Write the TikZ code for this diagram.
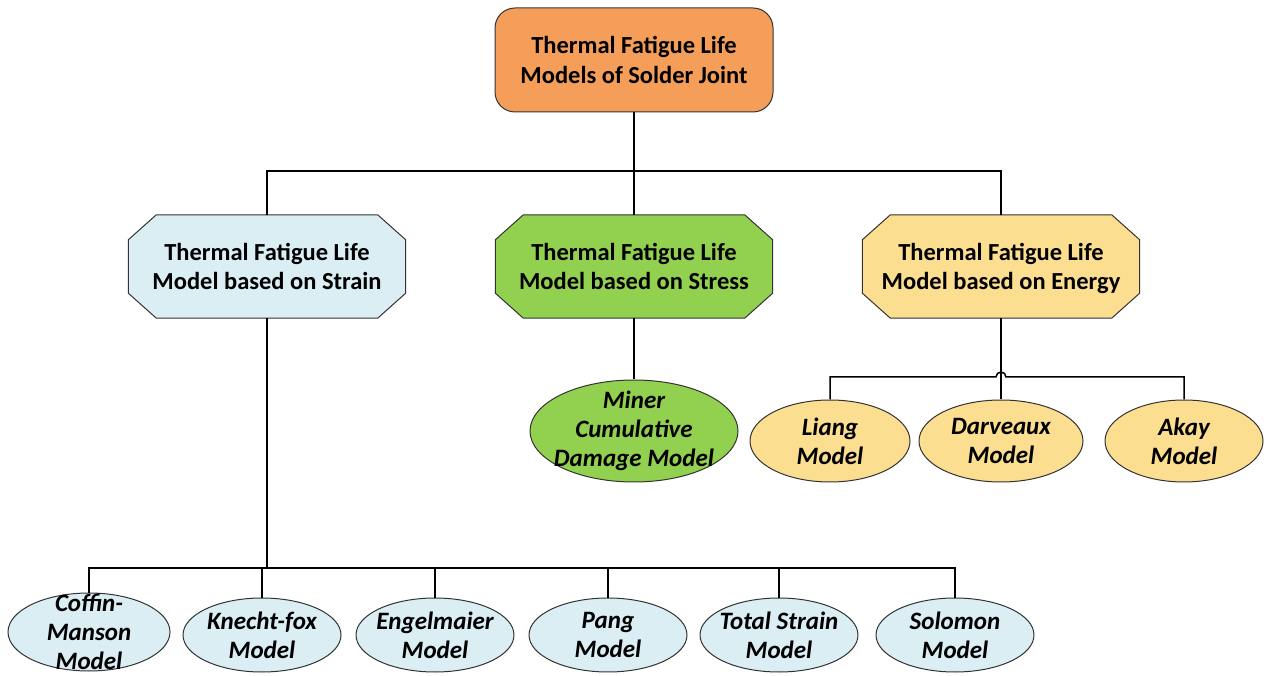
\documentclass[tikz,border=0pt]{standalone}
\usepackage{fontspec}
\setmainfont{Carlito}
\usepackage{xcolor}
\usepackage{tikz}
\usetikzlibrary{shapes.geometric, positioning, calc, backgrounds}

\definecolor{rootorange}{RGB}{245,158,90}
\definecolor{strainblue}{RGB}{218,238,243}
\definecolor{stressgreen}{RGB}{146,208,80}
\definecolor{energygold}{RGB}{252,222,144}

\begin{document}
\begin{tikzpicture}[
  x=1pt, y=1pt,
  rootbox/.style={rectangle, rounded corners=20pt, draw=black!80, line width=1pt,
             fill=rootorange, minimum width=278pt, minimum height=104pt,
             align=center, font=\fontsize{24.5}{29.5}\selectfont\bfseries},
  groupbox/.style={rectangle, minimum width=277pt, minimum height=103pt, inner sep=0pt,
             align=center, font=\fontsize{24.5}{29.5}\selectfont\bfseries,
             text depth=0pt},
  octline/.style={draw=black!80, line width=1pt},
  leaf/.style={ellipse, draw=black!80, line width=1pt, minimum width=158pt, minimum height=74pt},
  leaftext/.style={align=center, font=\fontsize{25}{29}\selectfont\bfseries\itshape},
  link/.style={line width=1.5pt, black}
]

% bounding box of the reference
\useasboundingbox (0,0) rectangle (1271,675);

% root and the three model families
\node[rootbox] (root) at (634,615) {Thermal Fatigue Life\\Models of Solder Joint};
\node[groupbox] (strain) at (267,408.5) {Thermal Fatigue Life\\Model based on Strain};
\node[groupbox] (stress) at (634,408.5) {Thermal Fatigue Life\\Model based on Stress};
\node[groupbox] (energy) at (1001,408.5) {Thermal Fatigue Life\\Model based on Energy};

% octagon outlines behind the family texts
\begin{scope}[on background layer]
\foreach \n/\c in {strain/strainblue, stress/stressgreen, energy/energygold}
  \filldraw[octline, fill=\c] ([xshift=28pt]\n.north west) -- ([xshift=-28pt]\n.north east)
    -- ([yshift=-25pt]\n.north east) -- ([yshift=25pt]\n.south east)
    -- ([xshift=-28pt]\n.south east) -- ([xshift=28pt]\n.south west)
    -- ([yshift=25pt]\n.south west) -- ([yshift=-25pt]\n.north west) -- cycle;
\end{scope}

% stress branch
\node[leaf, fill=stressgreen, minimum width=208pt, minimum height=102pt,
      label={[leaftext]center:{Miner\\Cumulative\\Damage Model}}] (miner) at (634,244) {};

% energy branch
\node[leaf, fill=energygold, minimum width=160pt, minimum height=82pt,
      label={[leaftext]center:{Liang\\Model}}] (liang) at (830,234) {};
\node[leaf, fill=energygold, minimum width=164pt, minimum height=82pt,
      label={[leaftext]center:{Darveaux\\Model}}] (darveaux) at (1001,234) {};
\node[leaf, fill=energygold, minimum width=158pt, minimum height=82pt,
      label={[leaftext]center:{Akay\\Model}}] (akay) at (1184,234) {};

% strain branch
\node[leaf, fill=strainblue, minimum width=162pt, minimum height=78pt,
      label={[leaftext]center:{Coffin-\\Manson\\Model}}] (coffin) at (89,43) {};
\node[leaf, fill=strainblue, label={[leaftext]center:{Knecht-fox\\Model}}] (knecht) at (262,40) {};
\node[leaf, fill=strainblue, label={[leaftext]center:{Engelmaier\\Model}}] (engelmaier) at (435,40) {};
\node[leaf, fill=strainblue, label={[leaftext]center:{Pang\\Model}}] (pang) at (608,40) {};
\node[leaf, fill=strainblue, label={[leaftext]center:{Total Strain\\Model}}] (totalstrain) at (779,40) {};
\node[leaf, fill=strainblue, label={[leaftext]center:{Solomon\\Model}}] (solomon) at (955,40) {};

% bus points
\coordinate (bus1) at (634,504);
\coordinate (bus2) at (267,107);
\coordinate (bus3) at (1001,298);

% connectors
\draw[link] (root) -- (stress);
\draw[link] (strain.north) |- (bus1) -| (energy.north);
\draw[link] (stress) -- (miner);
\draw[link] (energy) -- (darveaux);
\draw[link] (liang.north) |- ($(bus3)+(-5,0)$) arc[start angle=180, end angle=0, radius=5] -| (akay.north);
\draw[link] (strain) -- (bus2);
\draw[link] (coffin.north) |- (bus2) -| (solomon.north);
\foreach \n in {knecht, engelmaier, pang, totalstrain}
  \draw[link] (\n.north) -- (\n.north |- bus2);

\end{tikzpicture}
\end{document}
